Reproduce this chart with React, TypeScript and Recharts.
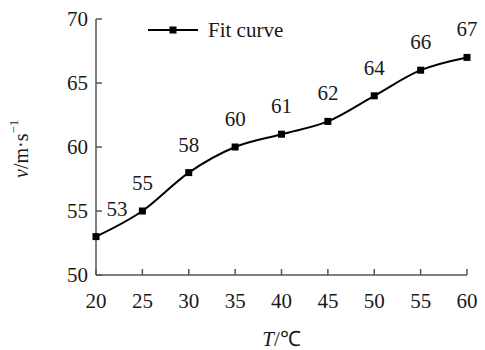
import React from "react";
import { LineChart, Line, XAxis, YAxis, LabelList } from "recharts";

const temperatures = [20, 25, 30, 35, 40, 45, 50, 55, 60];
const speeds = [53, 55, 58, 60, 61, 62, 64, 66, 67];
const xTicks = [20, 25, 30, 35, 40, 45, 50, 55, 60];
const yTicks = [50, 55, 60, 65, 70];
const seriesName = "Fit curve";

const data = temperatures.map((t, i) => ({ t, v: speeds[i] }));

const FONT = "'Liberation Serif', 'Times New Roman', Times, serif";
const AXIS = "#555555";
const TEXT = "#1a1a1a";
const FS = 21;
const txtStyle: React.CSSProperties = { fontFamily: FONT, fontSize: FS };

const XTick = (props: any) => {
  const { x, y, payload } = props;
  return (
    <g>
      <line x1={x} y1={y} x2={x} y2={y - 6} stroke={AXIS} strokeWidth={1.5} />
      <text x={x} y={y + 26} textAnchor="middle" dominantBaseline="central" style={txtStyle} fill={TEXT}>
        {payload.value}
      </text>
    </g>
  );
};

const YTick = (props: any) => {
  const { x, y, payload } = props;
  return (
    <g>
      <line x1={x} y1={y} x2={x + 6} y2={y} stroke={AXIS} strokeWidth={1.5} />
      <text x={x - 8} y={y} textAnchor="end" dominantBaseline="central" style={txtStyle} fill={TEXT}>
        {payload.value}
      </text>
    </g>
  );
};

const SquareDot = (props: any) => {
  const { cx, cy } = props;
  if (cx == null || cy == null) return null;
  return <rect x={cx - 3.5} y={cy - 3.5} width={7} height={7} fill="#000" />;
};

const PointLabel = (props: any) => {
  const { x, y, value, index } = props;
  const dx = index === 0 ? 21 : 0;
  return (
    <text x={x + dx} y={y - 28} textAnchor="middle" dominantBaseline="central" style={txtStyle} fill={TEXT}>
      {value}
    </text>
  );
};

const XLabel = (props: any) => {
  const vb = props.viewBox || {};
  const cx = vb.x + vb.width / 2;
  return (
    <text x={cx} y={vb.y + 64} textAnchor="middle" dominantBaseline="central" style={txtStyle} fill={TEXT}>
      <tspan fontStyle="italic">T</tspan>
      <tspan>/℃</tspan>
    </text>
  );
};

const YLabel = (props: any) => {
  const vb = props.viewBox || {};
  const startY = vb.y + vb.height / 2 + 31;
  const cx = 21;
  return (
    <text
      x={cx}
      y={startY}
      textAnchor="start"
      dominantBaseline="central"
      style={{ fontFamily: FONT, fontSize: 20 }}
      fill={TEXT}
      transform={`rotate(-90 ${cx} ${startY})`}
    >
      <tspan fontStyle="italic">v</tspan>
      <tspan>/m·s</tspan>
      <tspan dy={-8} style={{ fontSize: 13 }}>−1</tspan>
    </text>
  );
};

const LegendBox = () => (
  <svg width={170} height={24} style={{ position: "absolute", left: 148, top: 18, display: "block" }}>
    <line x1={0} y1={12} x2={50} y2={12} stroke="#000" strokeWidth={2} />
    <rect x={21.5} y={8.5} width={7} height={7} fill="#000" />
    <text x={60} y={12} dominantBaseline="central" style={txtStyle} fill={TEXT}>
      {seriesName}
    </text>
  </svg>
);

export default function App() {
  return (
    <div style={{ position: "absolute", left: 0, top: 0, width: 485, height: 350, background: "#fff" }}>
      <LineChart width={485} height={350} data={data} margin={{ top: 19, right: 18, bottom: 0, left: 0 }}>
        <XAxis
          dataKey="t"
          type="number"
          domain={[20, 60]}
          ticks={xTicks}
          height={75}
          tickSize={0}
          tickMargin={0}
          tick={<XTick />}
          axisLine={{ stroke: AXIS, strokeWidth: 1.5 }}
          tickLine={false}
          interval={0}
          label={<XLabel />}
        />
        <YAxis
          type="number"
          domain={[50, 70]}
          ticks={yTicks}
          width={96}
          tickSize={0}
          tickMargin={0}
          tick={<YTick />}
          axisLine={{ stroke: AXIS, strokeWidth: 1.5 }}
          tickLine={false}
          interval={0}
          label={<YLabel />}
        />
        <Line
          type="monotone"
          dataKey="v"
          name={seriesName}
          stroke="#000"
          strokeWidth={2}
          dot={<SquareDot />}
          activeDot={false}
          isAnimationActive={false}
        >
          <LabelList dataKey="v" content={<PointLabel />} />
        </Line>
      </LineChart>
      <LegendBox />
    </div>
  );
}
